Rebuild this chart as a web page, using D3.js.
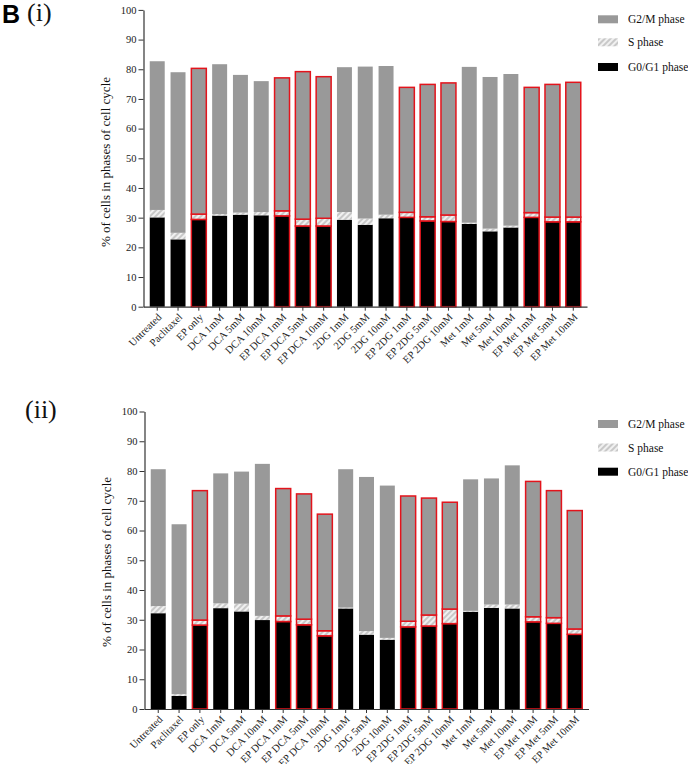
<!DOCTYPE html>
<html>
<head>
<meta charset="utf-8">
<script src="https://cdn.jsdelivr.net/npm/d3@7"></script>
<style>
  body { margin: 0; background: #fff; }
</style>
</head>
<body>
<div id="chart"></div>
<script>
const categories = ['Untreated', 'Paclitaxel', 'EP only', 'DCA 1mM', 'DCA 5mM', 'DCA 10mM',
  'EP DCA 1mM', 'EP DCA 5mM', 'EP DCA 10mM', '2DG 1mM', '2DG 5mM', '2DG 10mM',
  'EP 2DG 1mM', 'EP 2DG 5mM', 'EP 2DG 10mM', 'Met 1mM', 'Met 5mM', 'Met 10mM',
  'EP Met 1mM', 'EP Met 5mM', 'EP Met 10mM']

// panel (i)
const g0g1_i = [30.1, 22.7, 29.4, 30.7, 31.0, 30.8, 30.6, 27.2, 27.2, 29.3, 27.6, 29.8, 30.1, 28.9, 28.7, 27.9, 25.4, 26.7, 30.1, 28.6, 28.6]
const s_i    = [2.5, 2.2, 1.8, 0.5, 0.7, 1.1, 1.7, 2.3, 2.6, 2.6, 2.1, 1.2, 1.7, 1.4, 2.2, 0.4, 0.9, 0.6, 1.6, 1.6, 1.6]
const g2m_i  = [50.1, 54.1, 49.1, 50.5, 46.4, 44.1, 44.8, 49.7, 47.7, 48.8, 51.2, 50.1, 42.1, 44.6, 44.5, 52.5, 51.1, 51.1, 42.2, 44.7, 45.4]

// panel (ii)
const g0g1_ii = [32.2, 4.4, 28.2, 33.9, 32.8, 29.9, 29.4, 28.3, 24.6, 33.8, 25.0, 23.3, 27.6, 27.9, 28.7, 32.7, 34.0, 33.8, 29.3, 28.8, 25.1]
const s_ii    = [2.4, 0.6, 1.7, 1.6, 2.6, 1.4, 1.9, 1.9, 1.7, 0.3, 1.2, 0.6, 1.9, 3.7, 4.9, 0.3, 1.1, 1.3, 1.7, 1.9, 1.8]
const g2m_ii  = [46.0, 57.1, 43.5, 43.7, 44.4, 51.1, 42.8, 42.1, 39.2, 46.5, 51.8, 51.2, 42.1, 39.3, 35.9, 44.2, 42.4, 46.8, 45.5, 42.7, 39.8]

const yTicks = [0, 10, 20, 30, 40, 50, 60, 70, 80, 90, 100]
const phases = ['g0g1', 's', 'g2m']
const legendLabels = ['G2/M phase', 'S phase', 'G0/G1 phase']

const width = 688
const height = 764
const red = '#e3141c'
const grey = '#999999'
const serif = '"Liberation Serif", "Times New Roman", serif'

const svg = d3.select('#chart').append('svg')
  .attr('width', width)
  .attr('height', height)

// hatch for S phase
const defs = svg.append('defs')
const pat = defs.append('pattern')
  .attr('id', 'hatch')
  .attr('patternUnits', 'userSpaceOnUse')
  .attr('width', 4)
  .attr('height', 4)
  .attr('patternTransform', 'rotate(45)')
pat.append('rect').attr('width', 4).attr('height', 4).attr('fill', '#c8c8c8')
pat.append('line').attr('x1', 1).attr('y1', 0).attr('x2', 1).attr('y2', 4)
  .attr('stroke', '#fbfbfb').attr('stroke-width', 1.6)

const fills = { g0g1: '#000', s: 'url(#hatch)', g2m: grey }

function drawPanel(cfg) {
  const rows = categories.map((c, i) => ({
    cat: c, g0g1: cfg.g0g1[i], s: cfg.s[i], g2m: cfg.g2m[i]
  }))
  const series = d3.stack().keys(phases)(rows)

  const x = d3.scaleBand()
    .domain(categories)
    .range([cfg.x0, cfg.x1])
    .paddingInner(0.28)
    .paddingOuter(0.3)

  const y = d3.scaleLinear()
    .domain([0, 100])
    .range([cfg.y0, cfg.y1])

  const g = svg.append('g')

  g.selectAll('g.layer')
    .data(series)
    .join('g')
    .attr('class', 'layer')
    .attr('fill', d => fills[d.key])
    .selectAll('rect')
    .data(d => d)
    .join('rect')
    .attr('x', d => x(d.data.cat))
    .attr('y', d => y(d[1]))
    .attr('width', x.bandwidth())
    .attr('height', d => y(d[0]) - y(d[1]))
    .attr('stroke', d => d.data.cat.startsWith('EP') ? red : 'none')
    .attr('stroke-width', 1.5)

  // y axis
  const yAxis = g.append('g')
    .attr('transform', `translate(${cfg.x0},0)`)
    .call(d3.axisLeft(y).tickValues(yTicks).tickSize(5).tickSizeOuter(0).tickPadding(2))
  yAxis.select('.domain').attr('stroke', '#333').attr('stroke-width', 1.2)
  yAxis.selectAll('.tick line').attr('stroke', '#333')
  yAxis.selectAll('text').style('font-size', '10.5px').style('font-family', serif).attr('fill', '#222')

  // x axis
  const xAxis = g.append('g')
    .attr('transform', `translate(0,${cfg.y0})`)
    .call(d3.axisBottom(x).tickSize(4).tickSizeOuter(0))
  xAxis.select('.domain').attr('stroke', '#333').attr('stroke-width', 1.2)
  xAxis.selectAll('.tick line').attr('stroke', '#333')
  xAxis.selectAll('text')
    .style('font-size', '10.5px')
    .style('font-family', serif)
    .attr('fill', '#222')
    .attr('text-anchor', 'end')
    .attr('x', 0).attr('y', 0).attr('dy', 0)
    .attr('transform', 'translate(5,11) rotate(-45)')

  // y title
  g.append('text')
    .attr('transform', `translate(${cfg.titleX},${cfg.titleY}) rotate(-90)`)
    .attr('text-anchor', 'middle')
    .style('font-family', serif)
    .style('font-size', '13px')
    .attr('fill', '#111')
    .text('% of cells in phases of cell cycle')

  // legend
  const legendFills = [grey, 'url(#hatch)', '#000']
  const lg = g.append('g')
  legendLabels.forEach((lab, i) => {
    lg.append('rect')
      .attr('x', 598).attr('y', cfg.legendY[i] - 4)
      .attr('width', 20).attr('height', 8)
      .attr('fill', legendFills[i])
    lg.append('text')
      .attr('x', 628).attr('y', cfg.legendY[i])
      .attr('dy', '0.35em')
      .style('font-family', serif)
      .style('font-size', '11.5px')
      .attr('fill', '#111')
      .text(lab)
  })

  g.append('text')
    .attr('x', cfg.labelX).attr('y', cfg.labelY)
    .style('font-family', serif)
    .style('font-size', '26px')
    .attr('fill', '#111')
    .text(cfg.label)
}

// panel letter
svg.append('text')
  .attr('x', 2).attr('y', 23)
  .style('font-family', '"Liberation Sans", Arial, sans-serif')
  .style('font-weight', 'bold')
  .style('font-size', '25px')
  .text('B')

drawPanel({
  g0g1: g0g1_i, s: s_i, g2m: g2m_i,
  x0: 143.5, x1: 587, y0: 306.7, y1: 9.9,
  titleX: 110, titleY: 162, legendY: [19.3, 42.3, 67],
  label: '(i)', labelX: 27, labelY: 20.5
})

drawPanel({
  g0g1: g0g1_ii, s: s_ii, g2m: g2m_ii,
  x0: 144.5, x1: 588.5, y0: 709, y1: 411.5,
  titleX: 111, titleY: 562, legendY: [424, 447.5, 471.7],
  label: '(ii)', labelX: 25, labelY: 418
})
</script>
</body>
</html>
